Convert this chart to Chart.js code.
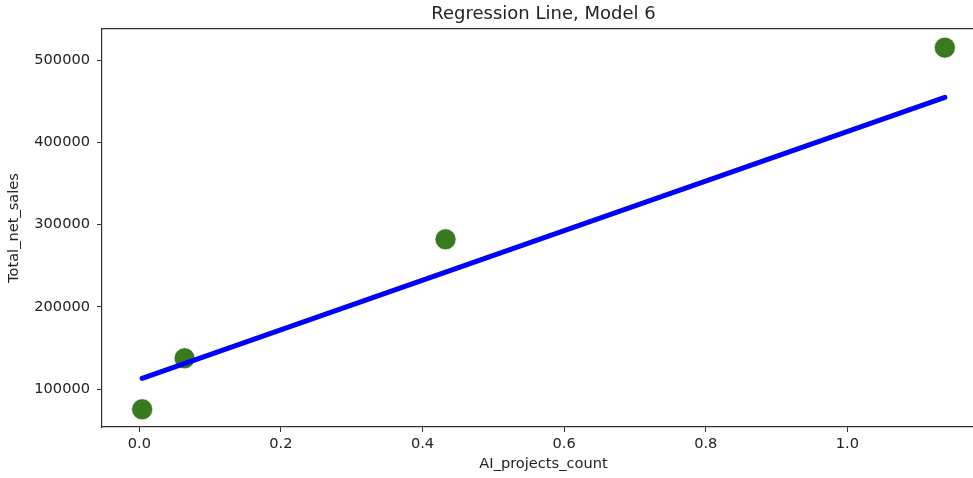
<!DOCTYPE html>
<html>
<head>
<meta charset="utf-8">
<script src="https://cdn.jsdelivr.net/npm/chart.js@4.4.0/dist/chart.umd.min.js"></script>
<style>
  html, body { margin: 0; padding: 0; background: #ffffff; overflow: hidden; width: 973px; height: 478px; }
  #wrap { width: 973px; height: 478px; overflow: hidden; position: relative; }
  #c { position: absolute; left: 0; top: 0; }
</style>
</head>
<body>
<div id="wrap"><canvas id="c" width="985" height="478" style="width:985px;height:478px"></canvas></div>
<script>
const chartTitle = "Regression Line, Model 6";
const xAxisTitle = "AI_projects_count";
const yAxisTitle = "Total_net_sales";
const xValues = [0.004, 0.064, 0.4325, 1.1377];
const yValues = [75300, 137300, 282000, 515000];
const lineX = [0.004, 1.1377];
const lineY = [112800, 454600];
const xTicks = [0.0, 0.2, 0.4, 0.6, 0.8, 1.0];
const yTicks = [100000, 200000, 300000, 400000, 500000];

const FONT = "'DejaVu Sans', sans-serif";
const axisColor = '#333333';
const textColor = '#222222';

const scatterData = xValues.map((x, i) => ({ x: x, y: yValues[i] }));
const lineData = lineX.map((x, i) => ({ x: x, y: lineY[i] }));

const X_MIN = -0.0527, X_MAX = 1.1944;

new Chart(document.getElementById('c'), {
  type: 'scatter',
  data: {
    datasets: [
      {
        type: 'line',
        data: lineData,
        borderColor: '#0000ff',
        borderWidth: 5,
        borderCapStyle: 'round',
        pointRadius: 0,
        fill: false,
        clip: false,
        order: 0
      },
      {
        type: 'scatter',
        data: scatterData,
        backgroundColor: '#3a7a1f',
        borderColor: '#ffffff',
        borderWidth: 0.6,
        pointRadius: 10.5,
        pointHoverRadius: 10.5,
        clip: false,
        order: 1
      }
    ]
  },
  options: {
    responsive: false,
    animation: false,
    layout: { autoPadding: false, padding: 0 },
    plugins: {
      legend: { display: false },
      tooltip: { enabled: false },
      title: {
        display: true,
        fullSize: false,
        align: 'center',
        text: chartTitle,
        color: textColor,
        font: { family: FONT, size: 18, weight: 'normal', lineHeight: 1.2 },
        padding: { top: 4, bottom: 3.4 }
      }
    },
    scales: {
      x: {
        type: 'linear',
        position: 'bottom',
        min: X_MIN,
        max: X_MAX,
        afterBuildTicks: (s) => { s.ticks = xTicks.map(v => ({ value: v })); },
        afterFit: (s) => { s.height = 51; s.paddingLeft = 0; s.paddingRight = 0; },
        ticks: {
          color: textColor,
          font: { family: FONT, size: 14.6 },
          padding: 3,
          maxRotation: 0,
          autoSkip: false,
          callback: (v) => Number(v).toFixed(1)
        },
        grid: { drawOnChartArea: false, drawTicks: true, tickLength: 5, color: axisColor, lineWidth: 1 },
        border: { display: true, color: axisColor, width: 1.2 },
        title: {
          display: true,
          text: xAxisTitle,
          color: textColor,
          font: { family: FONT, size: 14.6, lineHeight: 1.2 },
          padding: { top: 0, bottom: 5.25 }
        }
      },
      xTop: {
        type: 'linear',
        position: 'top',
        min: X_MIN,
        max: X_MAX,
        afterFit: (s) => { s.height = 0; s.paddingLeft = 0; s.paddingRight = 0; },
        ticks: { display: false },
        grid: { display: false, drawTicks: false },
        border: { display: true, color: axisColor, width: 1.2 }
      },
      y: {
        type: 'linear',
        position: 'left',
        min: 53800,
        max: 537700,
        afterBuildTicks: (s) => { s.ticks = yTicks.map(v => ({ value: v })); },
        afterFit: (s) => { s.width = 102; s.paddingTop = 0; s.paddingBottom = 0; },
        ticks: {
          color: textColor,
          font: { family: FONT, size: 14.6 },
          padding: 7,
          autoSkip: false,
          callback: (v) => String(v)
        },
        grid: { drawOnChartArea: false, drawTicks: true, tickLength: 5, color: axisColor, lineWidth: 1 },
        border: { display: true, color: axisColor, width: 1.2 },
        title: {
          display: true,
          text: yAxisTitle,
          color: textColor,
          font: { family: FONT, size: 14.6, lineHeight: 1.2 },
          padding: { top: 5.75, bottom: 0 }
        }
      }
    }
  }
});
</script>
</body>
</html>
